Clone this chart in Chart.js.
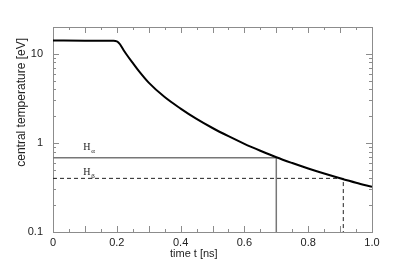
<!DOCTYPE html>
<html lang="en">
<head>
<meta charset="UTF-8">
<title>Central temperature</title>
<script src="https://cdn.jsdelivr.net/npm/chart.js"></script>
<style>
  html, body { margin: 0; padding: 0; background: #fff; }
  #wrap { width: 399px; height: 266px; }
</style>
</head>
<body>
<div id="wrap"><canvas id="tempChart"></canvas></div>
<script>
// central temperature vs time
const timeNs = [0, 0.1, 0.19, 0.2, 0.205, 0.21, 0.215, 0.22, 0.23, 0.25, 0.27, 0.3, 0.35, 0.4, 0.45, 0.5, 0.55, 0.6, 0.65, 0.7, 0.75, 0.8, 0.85, 0.9, 0.95, 1.0];
const tempEV = [14.1, 14.05, 14.0, 13.8, 13.4, 12.8, 12.0, 11.2, 9.9, 7.9, 6.35, 4.75, 3.27, 2.43, 1.86, 1.47, 1.19, 0.977, 0.817, 0.69, 0.594, 0.516, 0.453, 0.401, 0.357, 0.321];

// H alpha / H beta threshold lines
const hAlphaT = [0, 0.70, 0.70];
const hAlphaV = [0.68, 0.68, 0.1];
const hBetaT = [0, 0.91, 0.91];
const hBetaV = [0.40, 0.40, 0.1];

const xTicks = [0, 0.2, 0.4, 0.6, 0.8, 1.0];
const yTicks = [0.1, 1, 10];
const xMarks = [0.05, 0.1, 0.15, 0.2, 0.25, 0.3, 0.35, 0.4, 0.45, 0.5, 0.55, 0.6, 0.65, 0.7, 0.75, 0.8, 0.85, 0.9, 0.95];
const xMajorMarks = [0.1, 0.2, 0.3, 0.4, 0.5, 0.6, 0.7, 0.8, 0.9];
const yMarks = [0.2, 0.3, 0.4, 0.5, 0.6, 0.7, 0.8, 0.9, 1, 2, 3, 4, 5, 6, 7, 8, 9, 10];
const yMajorMarks = [1, 10];

function toPoints(xs, ys) {
    return xs.map((v, i) => ({ x: v, y: ys[i] }));
}

// frame, inward tick marks, line labels and axis titles
const frameTicks = {
    id: 'frameTicks',
    beforeDatasetsDraw(chart) {
        const { ctx, chartArea: a, scales: { x, y } } = chart;
        ctx.save();
        ctx.strokeStyle = '#8c8c8c';
        ctx.lineWidth = 1;
        ctx.strokeRect(a.left + 0.5, a.top + 0.5, a.right - a.left, a.bottom - a.top);
        ctx.beginPath();
        xMarks.forEach(v => {
            const px = Math.round(x.getPixelForValue(v)) + 0.5;
            const len = xMajorMarks.includes(v) ? 6 : 3;
            ctx.moveTo(px, a.bottom); ctx.lineTo(px, a.bottom - len);
            ctx.moveTo(px, a.top); ctx.lineTo(px, a.top + len);
        });
        yMarks.forEach(v => {
            const py = Math.round(y.getPixelForValue(v)) + 0.5;
            const len = yMajorMarks.includes(v) ? 6 : 3;
            ctx.moveTo(a.left, py); ctx.lineTo(a.left + len, py);
            ctx.moveTo(a.right, py); ctx.lineTo(a.right - len, py);
        });
        ctx.stroke();

        // axis titles
        ctx.fillStyle = '#222';
        ctx.font = '11px "Liberation Sans", Arial, sans-serif';
        ctx.textBaseline = 'middle';
        ctx.textAlign = 'left';
        ctx.fillText('time t [ns]', a.left + 117, 254);
        ctx.save();
        ctx.translate(22, a.top + 11);
        ctx.rotate(-Math.PI / 2);
        ctx.font = '12px "Liberation Sans", Arial, sans-serif';
        ctx.textAlign = 'right';
        ctx.fillText('central temperature [eV]', 0, 0);
        ctx.restore();

        // H alpha / H beta labels
        ctx.textBaseline = 'alphabetic';
        ctx.textAlign = 'left';
        const lx = x.getPixelForValue(0.095);
        [['\u03b1', hAlphaV[0], 8], ['\u03b2', hBetaV[0], 3]].forEach(([sub, v, up]) => {
            const py = y.getPixelForValue(v) - up;
            ctx.font = '10px "Liberation Serif", "Times New Roman", serif';
            ctx.fillText('H', lx, py);
            ctx.font = '7px "Liberation Serif", "Times New Roman", serif';
            ctx.fillText(sub, lx + 8, py + 3);
        });
        ctx.restore();
    }
};

new Chart(document.getElementById('tempChart'), {
    type: 'line',
    data: {
        datasets: [
            {
                data: toPoints(timeNs, tempEV),
                borderColor: '#000',
                borderWidth: 2,
                cubicInterpolationMode: 'monotone',
                pointRadius: 0
            },
            {
                data: toPoints(hAlphaT, hAlphaV),
                borderColor: '#777',
                borderWidth: 1.5,
                pointRadius: 0
            },
            {
                data: toPoints(hBetaT, hBetaV),
                borderColor: '#222',
                borderWidth: 1,
                borderDash: [4, 3],
                pointRadius: 0
            }
        ]
    },
    options: {
        responsive: true,
        maintainAspectRatio: false,
        animation: false,
        layout: { padding: { top: 27, right: 27, left: 0, bottom: 0 } },
        plugins: { legend: { display: false }, tooltip: { enabled: false } },
        scales: {
            x: {
                type: 'linear',
                min: 0,
                max: 1,
                grid: { display: false, drawTicks: false },
                border: { display: false },
                afterBuildTicks: s => { s.ticks = xTicks.map(v => ({ value: v })); },
                afterFit: s => { s.height = 34; },
                ticks: {
                    padding: 4,
                    color: '#222',
                    font: { family: '"Liberation Sans", Arial, sans-serif', size: 11 },
                    maxRotation: 0,
                    callback: v => v === 0 ? '0' : Number(v).toFixed(1)
                }
            },
            y: {
                type: 'logarithmic',
                min: 0.1,
                max: 20,
                grid: { display: false, drawTicks: false },
                border: { display: false },
                afterBuildTicks: s => { s.ticks = yTicks.map(v => ({ value: v })); },
                afterFit: s => { s.width = 53; },
                ticks: {
                    padding: 10,
                    color: '#222',
                    font: { family: '"Liberation Sans", Arial, sans-serif', size: 11 },
                    callback: v => String(v)
                }
            }
        }
    },
    plugins: [frameTicks]
});
</script>
</body>
</html>
